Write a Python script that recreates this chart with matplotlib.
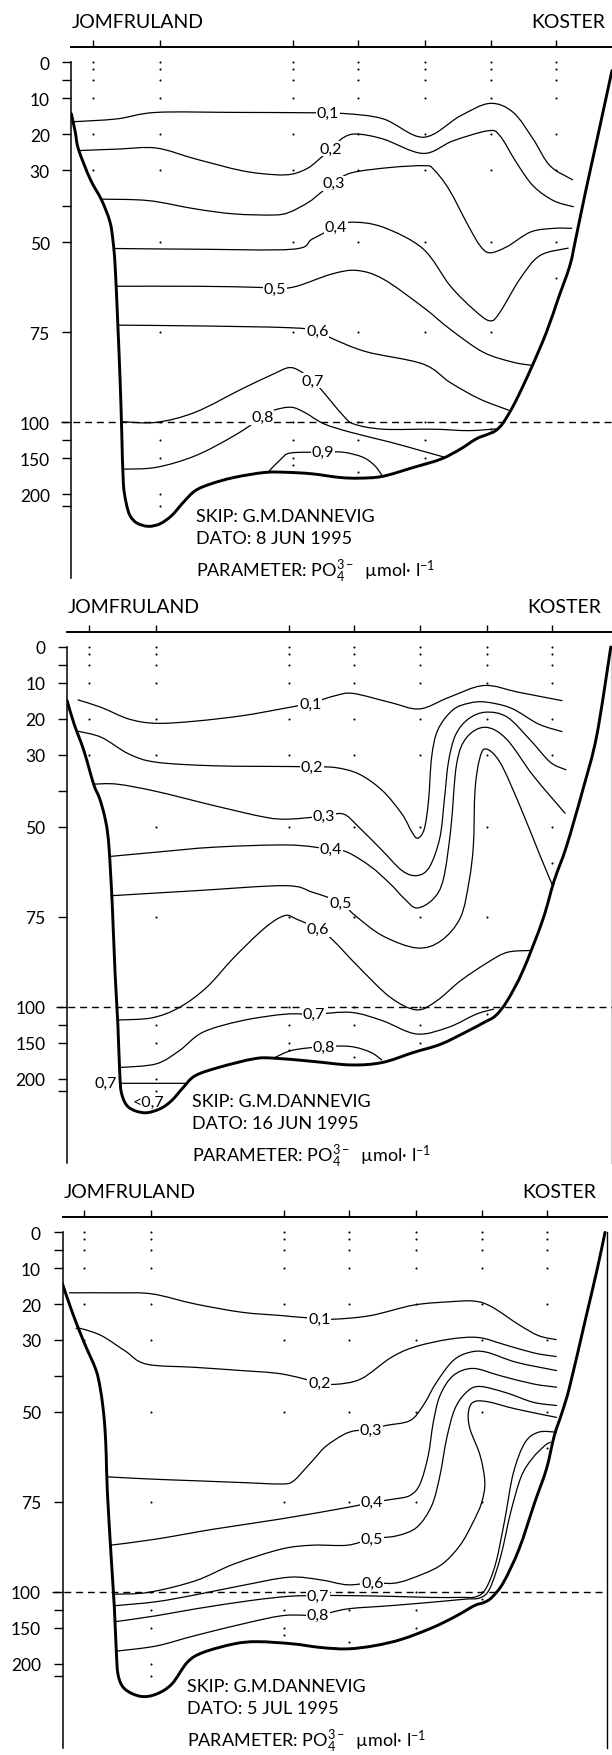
import numpy as np
import matplotlib
matplotlib.use("Agg")
import matplotlib.pyplot as plt
from matplotlib.path import Path
from matplotlib.patches import PathPatch
from matplotlib import transforms

plt.rcParams['font.family'] = ['Lato', 'DejaVu Sans']
plt.rcParams['mathtext.fontset'] = 'custom'
plt.rcParams['mathtext.rm'] = 'Lato'
plt.rcParams['mathtext.it'] = 'Lato'

# ---- axes / station data -------------------------------------------------
stations = [5.6, 22.8, 56.8, 73.5, 90.5, 107.5, 124.2]   # km from Jomfruland
samples = [
    [0, 2, 5, 10, 20, 30],
    [0, 2, 5, 10, 20, 30, 50, 75, 100, 125, 150, 200, 250],
    [0, 2, 5, 10, 20, 30, 50, 75, 100, 125, 150, 160],
    [0, 2, 5, 10, 20, 30, 50, 75, 100, 125, 170],
    [0, 2, 5, 10, 20, 30, 50, 75, 100, 125, 150],
    [0, 2, 5, 10, 20, 30, 50, 75, 100, 110],
    [0, 2, 5, 10, 20, 30, 50, 60],
]
depth_ticks = [0, 5, 10, 20, 30, 40, 50, 75, 100, 125, 150, 200, 250]
depth_labels = ['0', '', '10', '20', '30', '', '50', '75', '100', '', '150', '200', '']

# depth axis is linear to 100 m and squeezed below
depth_knots = [-50, 0, 100, 200, 250, 650]
scale_knots = [-50, 0, 100, 120, 123.33, 143.33]

# ---- 8 JUN 1995 ----------------------------------------------------------
jun08_bottom = [(0.0, 14.4), (1.0, 19.5), (1.8, 24.2), (4.8, 32.5), (7.8, 38.5), (9.9, 44.5),
                (10.7, 50.1), (11.2, 56.6), (11.8, 70.5), (12.5, 89), (12.9, 114.5), (13.3, 184),
                (14.0, 234.5), (15.0, 303), (16.8, 345), (19.7, 363), (22.7, 349), (25.7, 303),
                (28.7, 234.5), (31.7, 195.5), (35.7, 186), (41.7, 177), (49.7, 170), (55.7, 170),
                (61.7, 172), (68.7, 177), (73.7, 178), (79.7, 175.5), (87.7, 163), (94.7, 151.5),
                (99.7, 137.5), (103.7, 123.5), (106.7, 117), (108.7, 112), (110.7, 100.5),
                (113.7, 94.5), (117.7, 85.3), (121.7, 75.1), (124.7, 65.8), (127.7, 56.6),
                (129.2, 49.2), (131.7, 36.2), (134.7, 21.4), (138.5, 2.4)]
jun08_c1 = [(0.4, 16.6), (11.7, 15.8), (21.7, 14.0), (41.7, 14.0), (60.7, 14.1), (69.7, 14.3),
            (79.9, 15.8), (90.2, 20.9), (99.6, 15.0), (107.2, 11.5), (113.2, 14.0), (118.3, 21.4),
            (122.6, 28.8), (128.4, 32.7)]
jun08_c2 = [(2.0, 24.6), (11.7, 24.2), (21.7, 23.9), (31.7, 26.9), (43.7, 30.2), (52.0, 31.3),
            (56.7, 31.1), (60.7, 29.4), (64.0, 26.5), (66.7, 23.9), (69.7, 21.0), (73.1, 20.0),
            (79.9, 21.4), (90.1, 25.4), (97.8, 21.9), (106.8, 19.1), (109.8, 20.5), (114.0, 27.9),
            (118.3, 34.4), (123.5, 38.5), (128.6, 40.2)]
jun08_c3 = [(7.6, 38.1), (19.7, 38.5), (31.7, 40.8), (41.7, 42.2), (51.7, 42.5), (55.7, 41.8),
            (60.7, 39.0), (64.0, 36.2), (67.2, 33.6), (71.7, 30.8), (81.7, 29.3), (90.5, 28.8),
            (92.7, 29.7), (96.7, 35.3), (101.7, 45.5), (104.7, 51.0), (107.2, 53.0), (111.6, 51.3),
            (117.7, 47.2), (123.7, 46.2), (128.2, 46.2)]
jun08_c4 = [(10.8, 51.8), (31.7, 52.0), (56.7, 52.0), (61.7, 49.2), (67.7, 45.9), (72.0, 44.5),
            (79.9, 45.9), (90.1, 51.9), (97.0, 62.1), (102.9, 68.6), (107.2, 71.9), (109.8, 69.5),
            (114.9, 60.3), (120.0, 53.8), (127.3, 51.7)]
jun08_c5 = [(11.45, 62.3), (31.7, 62.3), (47.7, 62.6), (52.2, 63.0), (57.7, 62.3), (66.7, 58.9),
            (73.1, 57.9), (79.9, 60.3), (90.1, 68.1), (97.0, 74.2), (105.5, 80.6), (113.2, 83.4),
            (118.3, 84.3)]
jun08_c6 = [(11.9, 73.1), (31.7, 73.3), (55.7, 73.8), (63.0, 74.7), (66.8, 76.8), (75.6, 80.5),
            (90.1, 83.9), (97.0, 89.0), (104.6, 93.6), (112.5, 96.9)]
jun08_c7 = [(12.8, 99.9), (21.7, 100.5), (31.7, 97.3), (43.7, 90.8), (51.7, 86.7), (55.7, 84.9),
            (58.5, 85.8), (61.7, 88.5), (64.0, 91.0), (69.7, 98.3), (72.5, 103), (79.9, 110),
            (92.7, 110), (101.7, 112), (109.0, 109.5)]
jun08_c8 = [(13.2, 165.5), (21.7, 163), (31.7, 147), (41.7, 119), (48.9, 98.7), (51.7, 96.8),
            (56.2, 95.9), (59.7, 97.3), (64.7, 102.5), (71.7, 114.5), (81.7, 128), (89.7, 140),
            (95.7, 149)]
jun08_c9 = [(50.5, 169), (53.7, 151.5), (56.2, 143), (64.5, 142), (69.7, 142), (74.7, 149),
            (77.7, 160.5), (79.5, 173.5)]
jun08_labels = [('0,1', 65.7, 14.2), ('0,2', 66.5, 24.0), ('0,3', 67.2, 33.7), ('0,4', 67.7, 45.9),
                ('0,5', 52.2, 63.1), ('0,6', 63.0, 74.7), ('0,7', 61.7, 88.5), ('0,8', 48.9, 98.7),
                ('0,9', 64.5, 142)]

# ---- 16 JUN 1995 ---------------------------------------------------------
jun16_bottom = [(0.0, 14.9), (1.8, 21.4), (4.3, 28.8), (6.8, 38.1), (8.3, 42.0), (9.5, 46.5),
                (10.3, 51.0), (10.8, 56.6), (11.2, 64.0), (11.6, 72.3), (12.3, 90.8), (13.0, 123.5),
                (13.5, 193), (14.0, 267), (15.8, 341), (19.8, 371), (23.8, 349), (26.8, 303),
                (29.8, 234.5), (32.8, 195.5), (38.8, 184), (47.8, 172), (52.8, 171), (62.8, 175.5),
                (72.8, 180.5), (80.8, 177), (88.8, 163), (95.8, 151.5), (102.8, 133),
                (106.8, 121.5), (109.8, 112), (112.8, 98.2), (116.8, 89.9), (121.8, 76.0),
                (124.8, 64.9), (128.0, 55.2), (132.2, 39.4), (135.7, 24.6), (139.3, 0.0)]
jun16_c1 = [(2.8, 14.7), (8.8, 16.8), (15.8, 20.0), (22.8, 21.2), (32.8, 20.6), (44.8, 19.1),
            (54.8, 17.2), (62.3, 15.6), (68.8, 13.5), (73.3, 12.9), (82.8, 15.4), (90.3, 17.2),
            (97.8, 14.0), (106.8, 10.7), (115.8, 12.6), (126.8, 14.9)]
jun16_c2 = [(2.8, 23.4), (8.8, 25.1), (15.8, 29.7), (22.8, 32.0), (37.8, 33.0), (56.8, 33.2),
            (62.8, 33.3), (68.8, 33.5), (74.8, 35.3), (80.8, 39.9), (85.8, 46.4), (88.3, 51.3),
            (89.8, 53.1), (91.5, 50.6), (92.6, 42.7), (93.4, 30.6), (95.0, 23.0), (98.8, 17.5),
            (103.0, 15.6), (107.3, 15.3), (113.8, 17.0), (120.8, 21.4), (126.8, 23.5)]
jun16_c3 = [(6.8, 38.1), (12.8, 38.1), (22.8, 40.1), (37.8, 44.1), (50.8, 47.3), (56.8, 47.8),
            (65.8, 47.0), (70.8, 46.4), (74.8, 50.1), (80.8, 56.6), (85.8, 62.1), (89.6, 63.5),
            (92.8, 61.2), (95.5, 53.0), (96.7, 42.0), (97.7, 32.0), (99.5, 24.5), (102.8, 20.0),
            (107.3, 18.1), (112.8, 19.5), (118.8, 26.0), (123.8, 32.0), (127.8, 34.1)]
jun16_c4 = [(10.8, 58.2), (22.8, 57.0), (37.8, 55.6), (56.8, 55.0), (67.5, 56.2), (71.8, 57.0),
            (77.8, 61.0), (82.8, 65.8), (86.5, 70.0), (89.6, 72.5), (93.8, 70.0), (96.4, 64.5),
            (98.3, 50.6), (99.8, 32.5), (102.4, 25.1), (107.2, 22.3), (112.6, 25.6), (119.4, 35.7),
            (127.6, 46.2)]
jun16_c5 = [(11.2, 69.1), (32.8, 67.7), (55.8, 66.3), (62.8, 68.1), (70.0, 71.0), (73.8, 74.6),
            (80.8, 80.2), (89.6, 83.6), (95.8, 81.6), (100.8, 75.1), (103.0, 65.0), (104.1, 55.0),
            (104.5, 40.0), (105.6, 31.5), (107.2, 28.3), (110.9, 32.0), (116.0, 44.1),
            (121.2, 58.0), (124.4, 66.3)]
jun16_c6 = [(13.3, 118), (21.8, 115), (28.8, 100.5), (35.8, 94.5), (42.8, 86.2), (50.8, 77.9),
            (55.8, 74.6), (58.8, 75.6), (64.3, 78.3), (67.8, 81.1), (74.8, 89.0), (82.8, 97.3),
            (89.6, 104), (94.8, 98.2), (100.8, 92.7), (107.8, 87.6), (112.8, 84.8), (118.8, 84.3)]
jun16_c7 = [(13.6, 184), (22.8, 179), (28.8, 160.5), (34.8, 135), (44.8, 119), (55.8, 110),
            (63.3, 110), (72.8, 107.5), (80.8, 119), (89.6, 137.5), (97.8, 128), (104.8, 110),
            (109.3, 103)]
jun16_c8 = [(53.3, 170), (57.8, 160), (65.8, 155), (72.8, 155), (77.8, 163), (80.6, 173.5)]
jun16_c7deep = [(13.8, 218), (30.2, 218)]
jun16_labels = [('0,1', 62.3, 15.8), ('0,2', 62.8, 33.3), ('0,3', 65.8, 47.0), ('0,4', 67.5, 56.2),
                ('0,5', 70.0, 71.0), ('0,6', 64.3, 78.3), ('0,7', 63.3, 110), ('0,8', 65.8, 155)]

# ---- 5 JUL 1995 ----------------------------------------------------------
jul05_bottom = [(0.0, 14.4), (2.5, 22.3), (5.5, 30.6), (8.5, 38.1), (9.6, 43.0), (10.4, 49.0),
                (10.9, 55.0), (11.2, 62.0), (11.5, 72.3), (12.5, 90.8), (13.3, 123.5), (13.8, 184),
                (14.3, 249.5), (16.0, 323), (20.0, 363), (24.0, 351), (28.0, 295), (32.0, 197.5),
                (36.0, 184), (44.0, 172), (50.0, 169), (59.0, 172), (66.0, 177), (73.0, 179),
                (80.0, 174.5), (87.0, 165.5), (95.0, 149), (101.0, 133), (105.5, 119),
                (108.0, 114.5), (110.0, 107.5), (113.0, 97.3), (117.0, 88.0), (121.0, 75.1),
                (124.0, 65.8), (126.0, 56.6), (128.0, 50.1), (130.0, 42.7), (134.0, 24.2),
                (137.0, 10.3), (139.0, 0.1)]
jul05_c1 = [(1.8, 16.9), (14.0, 16.9), (23.0, 17.2), (34.0, 20.0), (46.0, 22.3), (56.0, 23.2),
            (61.0, 23.7), (65.8, 24.0), (70.0, 24.2), (79.0, 23.2), (90.0, 20.3), (99.0, 19.4),
            (105.5, 19.2), (110.0, 20.8), (117.0, 25.8), (122.0, 28.8), (126.5, 29.9)]
jul05_c2 = [(3.5, 26.8), (5.0, 26.9), (10.0, 28.8), (16.0, 33.0), (21.5, 36.7), (34.0, 37.6),
            (46.0, 38.5), (56.0, 39.4), (65.8, 41.8), (70.0, 42.3), (76.5, 40.8), (84.0, 35.0),
            (90.0, 32.0), (99.0, 29.8), (106.5, 29.3), (113.0, 31.2), (120.8, 33.6), (126.5, 34.6)]
jul05_c3 = [(11.3, 68.0), (22.0, 68.6), (34.0, 69.1), (46.0, 69.6), (56.0, 70.0), (59.0, 69.3),
            (62.0, 66.0), (64.5, 63.0), (67.5, 59.5), (72.0, 56.3), (75.0, 55.2), (79.0, 55.0),
            (82.6, 53.8), (89.0, 52.4), (92.4, 48.2), (95.8, 41.8), (100.1, 35.7), (104.4, 33.4),
            (108.7, 33.4), (116.3, 36.2), (126.6, 38.5)]
jul05_c4 = [(12.3, 87.0), (24.0, 85.3), (39.0, 82.5), (56.0, 79.7), (73.0, 76.5), (79.3, 75.1),
            (84.8, 74.2), (89.0, 73.2), (91.6, 70.0), (93.7, 62.1), (95.0, 52.9), (96.7, 45.5),
            (100.1, 39.9), (105.2, 37.9), (112.1, 39.9), (120.6, 42.2), (126.6, 43.1)]
jul05_c5 = [(13.2, 103), (22.0, 100.5), (34.0, 96.9), (44.0, 92.2), (56.0, 88.1), (64.0, 87.0),
            (73.0, 87.0), (79.3, 85.2), (85.6, 84.4), (90.8, 82.0), (94.6, 76.0), (96.7, 67.7),
            (98.4, 57.5), (100.5, 49.2), (103.5, 44.5), (106.9, 42.9), (113.8, 44.7),
            (120.6, 47.3), (126.6, 48.2)]
jul05_c6 = [(13.5, 119), (24.0, 113.5), (34.0, 104), (46.0, 98.2), (58.0, 95.9), (66.0, 96.6),
            (73.0, 98.0), (79.4, 97.4), (84.5, 97.6), (89.0, 96.4), (96.7, 92.7), (101.8, 87.1),
            (105.2, 80.6), (107.4, 75.1), (108.2, 69.5), (107.0, 62.1), (104.4, 54.7),
            (104.0, 50.1), (105.2, 47.3), (108.7, 47.1), (116.3, 49.2), (126.6, 51.5)]
jul05_c7 = [(13.8, 141), (24.0, 133), (34.0, 123.5), (48.0, 112), (58.0, 106), (65.5, 105),
            (73.0, 105), (84.0, 106), (94.0, 107.5), (102.0, 107.5), (106.0, 106.5), (108.5, 99),
            (111.0, 92), (113.3, 80), (115.5, 67), (118.5, 58.5), (122.0, 55.6), (126.5, 55.6)]
jul05_c8 = [(14.0, 182), (24.0, 175), (34.0, 160.5), (48.0, 142), (57.0, 132.5), (65.5, 132),
            (73.0, 123.5), (84.0, 119), (94.0, 114.5), (103.0, 110), (107.0, 108), (109.5, 99.0),
            (112.3, 90), (114.8, 78), (117.5, 68), (120.3, 63), (123.5, 59.4), (125.0, 58.4)]
jul05_labels = [('0,1', 65.8, 24.0), ('0,2', 65.8, 41.8), ('0,3', 79.0, 55.0), ('0,4', 79.3, 75.1),
                ('0,5', 79.3, 85.2), ('0,6', 79.4, 97.4), ('0,7', 65.5, 105), ('0,8', 65.5, 132)]


def fwd(d):
    return np.interp(d, depth_knots, scale_knots)


def inv(c):
    return np.interp(c, scale_knots, depth_knots)


def smooth_path(pts):
    # catmull-rom through the read points, done in the stretched depth space
    pts = np.asarray(pts, float)
    P = np.column_stack([pts[:, 0], fwd(pts[:, 1])])
    ext = np.vstack([P[0], P, P[-1]])
    verts = [P[0]]
    codes = [Path.MOVETO]
    for i in range(len(P) - 1):
        p0, p1, p2, p3 = ext[i], ext[i + 1], ext[i + 2], ext[i + 3]
        verts += [p1 + (p2 - p0) / 6.0, p2 - (p3 - p1) / 6.0, p2]
        codes += [Path.CURVE4] * 3
    verts = np.array(verts)
    verts[:, 1] = inv(verts[:, 1])
    return Path(verts, codes)


fig = plt.figure(figsize=(6.12, 17.56), dpi=100)
W, H = 612.0, 1756.0
XMAX = 139.5
PX_KM, PX_M = 3.903, 3.6


def panel(left, zero, bottom, lines, labels, date, right_from):
    top = zero - 4.2 * PX_M
    bot = zero + 143.33 * PX_M
    ax = fig.add_axes([left / W, 1 - bot / H, XMAX * PX_KM / W, (bot - top) / H])
    ax.set_yscale('function', functions=(fwd, inv))
    ax.set_xlim(0, XMAX)
    ax.set_ylim(650, -4.2)
    ax.patch.set_visible(False)

    ax.spines['bottom'].set_visible(False)
    ax.spines['left'].set_bounds(0, 650)
    ax.spines['left'].set_linewidth(1.1)
    ax.spines['top'].set_linewidth(1.4)
    ax.spines['right'].set_bounds(right_from, 650)
    ax.spines['right'].set_linewidth(1.0)

    ax.set_xticks(stations)
    ax.xaxis.set_ticks_position('top')
    ax.tick_params(axis='x', direction='out', length=5, width=1.0, labeltop=False, labelbottom=False)
    ax.set_yticks(depth_ticks)
    ax.set_yticklabels(depth_labels)
    ax.tick_params(axis='y', direction='out', length=6.5, width=1.0, pad=9, labelsize=12.5, right=False)

    ax.axhline(100, xmin=-0.02, xmax=1, color='k', lw=1.0, ls=(0, (5, 3.5)), clip_on=False)

    for x, ds in zip(stations, samples):
        ax.plot([x] * len(ds), ds, 'o', ms=1.5, mew=0, color='k')

    for ln in lines:
        ax.add_patch(PathPatch(smooth_path(ln), fill=False, lw=0.9, ec='k', capstyle='round'))
    ax.add_patch(PathPatch(smooth_path(bottom), fill=False, lw=2.1, ec='k', capstyle='round'))

    for s, x, d in labels:
        ax.text(x, d, s, ha='center', va='center', fontsize=11.5, zorder=5,
                bbox=dict(fc='white', ec='none', pad=0.6))

    tr = transforms.blended_transform_factory(ax.transData, ax.transAxes)
    hy = 1 + 19.6 / (bot - top)
    ax.text(0.2, hy, 'JOMFRULAND', transform=tr, ha='left', va='baseline', fontsize=14)
    ax.text(136.7, hy, 'KOSTER', transform=tr, ha='right', va='baseline', fontsize=14)
    ax.text(32.0, 0.107, 'SKIP: G.M.DANNEVIG', transform=tr, ha='left', va='baseline', fontsize=13)
    ax.text(32.0, 0.066, 'DATO: ' + date, transform=tr, ha='left', va='baseline', fontsize=13)
    ax.text(32.0, 0.002, r'PARAMETER: PO$_4^{3-}$  µmol· l$^{-1}$', transform=tr,
            ha='left', va='baseline', fontsize=13)
    return ax


panel(71.4, 63, jun08_bottom,
      [jun08_c1, jun08_c2, jun08_c3, jun08_c4, jun08_c5, jun08_c6, jun08_c7, jun08_c8, jun08_c9],
      jun08_labels, '8 JUN 1995', 250)
ax2 = panel(67.1, 648, jun16_bottom,
            [jun16_c1, jun16_c2, jun16_c3, jun16_c4, jun16_c5, jun16_c6, jun16_c7, jun16_c8,
             jun16_c7deep],
            jun16_labels, '16 JUN 1995', 0)
ax2.text(9.8, 215, '0,7', ha='center', va='center', fontsize=11.5)
ax2.text(20.8, 313, '<0,7', ha='center', va='center', fontsize=11.5)
panel(62.5, 1233, jul05_bottom,
      [jul05_c1, jul05_c2, jul05_c3, jul05_c4, jul05_c5, jul05_c6, jul05_c7, jul05_c8],
      jul05_labels, '5 JUL 1995', 0)

fig.savefig('out.png', dpi=100)
